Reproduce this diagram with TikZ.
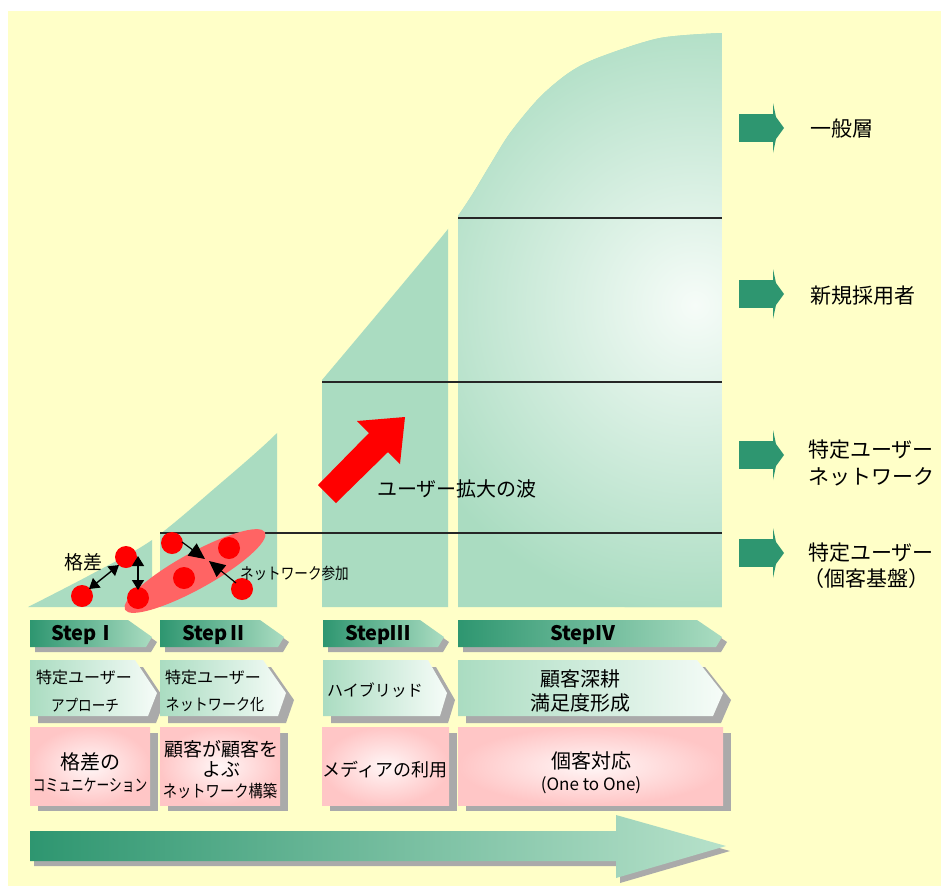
\documentclass[tikz,border=0pt]{standalone}
\usepackage{fontspec}
\usepackage{graphicx}
\setmainfont{Noto Sans CJK JP}
\usetikzlibrary{arrows.meta}
\definecolor{dkg}{RGB}{46,150,112}
\definecolor{mint}{RGB}{170,220,193}
\definecolor{bgy}{RGB}{255,255,200}
\definecolor{pnk}{RGB}{255,198,198}
\definecolor{shd}{RGB}{170,170,170}
\definecolor{paleg}{RGB}{246,252,248}
\definecolor{hatch}{RGB}{255,100,100}
\newcommand{\fs}[1]{\fontsize{#1}{#1}\selectfont}
\newcommand{\nx}[2]{\scalebox{#1}[1]{#2}}
\newcommand{\pentfill}[8]{\path[#1] (#2,#6) -- (#3,#6) -- (#4,#8) -- (#5,#7) -- (#2,#7) -- cycle;}
\newcommand{\garrow}[1]{%
  \fill[dkg] (739,#1-14) rectangle (774,#1+14);
  \fill[dkg] (773,#1-25) -- (776,#1-11) -- (784,#1) -- (776,#1+11) -- (773,#1+25) -- cycle;}
\tikzset{
  txt/.style={inner sep=0pt, outer sep=0pt, text=black},
  hline/.style={line width=2pt, black!85},
  dbl/.style={{Triangle[length=10pt,width=12pt]}-{Triangle[length=10pt,width=12pt]}, line width=1.4pt},
  sgl/.style={-{Triangle[length=16pt,width=15pt]}, line width=1.2pt},
  rdot/.style={fill=red},
}
\begin{document}
\begin{tikzpicture}[x=1pt,y=-1pt]
\useasboundingbox (0,0) rectangle (941,886);
\fill[white] (0,0) rectangle (941,886);
\fill[bgy] (8,11) rectangle (941,886);

% ---- growth curve columns
\begin{scope}
  \clip (28,0) rectangle (152,607) (160,0) rectangle (277,607) (322,0) rectangle (448,607) (458,0) rectangle (722,607);
  \fill[mint] plot[smooth] coordinates {(28,607) (90,575) (152,540) (215,488) (277,433) (322,380) (385,305) (448,229) (470,198) (490,165) (510,133) (540,97) (570,72) (600,57) (660,38) (722,33)} -- (722,607) -- (28,607) -- cycle;
\end{scope}
\begin{scope}
  \clip plot[smooth] coordinates {(28,607) (90,575) (152,540) (215,488) (277,433) (322,380) (385,305) (448,229) (470,198) (490,165) (510,133) (540,97) (570,72) (600,57) (660,38) (722,33)} -- (722,607) -- (28,607) -- cycle;
  \clip (458,0) rectangle (722,607);
  \shade[inner color=paleg, outer color=mint] (695,305) circle[radius=310pt];
\end{scope}

% ---- level lines
\draw[hline] (458,218) -- (722,218);
\draw[hline] (322,382) -- (722,382);
\draw[hline] (160,533) -- (722,533);

% ---- network ellipse and users
\fill[hatch, rotate around={29:(195,571)}] (195,571) ellipse [x radius=80pt, y radius=18pt];
\foreach \p in {(82,596),(126,557),(138,598),(172,543),(184,578),(229,548),(242,589)}
  \fill[rdot] \p circle[radius=11pt];

\coordinate (ka) at (89,589); \coordinate (kb) at (119,565);
\draw[dbl] (ka) -- (kb);
\coordinate (va) at (138,556); \coordinate (vb) at (138,590);
\draw[dbl] (va) -- (vb);
\coordinate (n1) at (182,542); \coordinate (n1t) at (205,559);
\coordinate (n2) at (236,583); \coordinate (n2t) at (209,561);
\draw[sgl] (n1) -- (n1t);
\draw[sgl] (n2) -- (n2t);

\node[txt, font=\fs{19}] (kakusa) at (83,562) {格差};
\node[txt, font=\fs{16}, anchor=west] (netjoin) at (240,573) {\nx{0.85}{ネットワーク参加}};

% ---- red wave arrow
\fill[red] (318,485) -- (369,433) -- (357,421) -- (405,417) -- (400,464) -- (388,452) -- (336,503) -- cycle;
\node[txt, font=\fs{20}, anchor=west] (wave) at (377,489) {ユーザー拡大の波};

% ---- right side labels
\garrow{128}
\garrow{294}
\garrow{455}
\garrow{553}
\node[txt, font=\fs{21}, anchor=west] (l1) at (810,129) {一般層};
\node[txt, font=\fs{21}, anchor=west] (l2) at (810,296) {新規採用者};
\node[txt, font=\fs{21}] (l3a) at (871,450) {特定ユーザー};
\node[txt, font=\fs{21}] (l3b) at (871,477) {ネットワーク};
\node[txt, font=\fs{21}] (l4a) at (871,553) {特定ユーザー};
\node[txt, font=\fs{21}] (l4b) at (866,579) {（個客基盤）};

% ---- row 1: step arrows
\pentfill{fill=shd, shift={(5,5)}}{30}{128}{152}{146}{620}{647}{637}
\pentfill{left color=dkg, right color=mint}{30}{128}{152}{146}{620}{647}{637}
\pentfill{fill=shd, shift={(5,5)}}{160}{260}{284}{278}{620}{647}{637}
\pentfill{left color=dkg, right color=mint}{160}{260}{284}{278}{620}{647}{637}
\pentfill{fill=shd, shift={(5,5)}}{323}{420}{444}{438}{620}{647}{637}
\pentfill{left color=dkg, right color=mint}{323}{420}{444}{438}{620}{647}{637}
\pentfill{fill=shd, shift={(5,5)}}{458}{697}{722}{716}{620}{647}{637}
\pentfill{left color=dkg, right color=mint}{458}{697}{722}{716}{620}{647}{637}
\node[txt, font=\bfseries\fs{20}] (s1) at (84,635) {StepⅠ};
\node[txt, font=\bfseries\fs{20}] (s2) at (215,635) {StepⅡ};
\node[txt, font=\bfseries\fs{20}] (s3) at (378,635) {StepⅢ};
\node[txt, font=\bfseries\fs{20}] (s4) at (583,635) {StepⅣ};

% ---- row 2: approach arrows
\pentfill{fill=shd, shift={(8,7)}}{30}{135}{157}{148}{660}{716}{693}
\pentfill{left color=mint, right color=paleg}{30}{135}{157}{148}{660}{716}{693}
\pentfill{fill=shd, shift={(8,7)}}{160}{263}{286}{278}{660}{716}{693}
\pentfill{left color=mint, right color=paleg}{160}{263}{286}{278}{660}{716}{693}
\pentfill{fill=shd, shift={(8,7)}}{323}{428}{447}{440}{660}{716}{693}
\pentfill{left color=mint, right color=paleg}{323}{428}{447}{440}{660}{716}{693}
\pentfill{fill=shd, shift={(8,7)}}{458}{697}{723}{713}{660}{716}{693}
\pentfill{left color=mint, right color=paleg}{458}{697}{723}{713}{660}{716}{693}
\node[txt, font=\fs{16}] (a1a) at (84,677) {特定ユーザー};
\node[txt, font=\fs{16}] (a1b) at (85,705) {\nx{0.85}{アプローチ}};
\node[txt, font=\fs{16}] (a2a) at (213,677) {特定ユーザー};
\node[txt, font=\fs{16}] (a2b) at (215,705) {\nx{0.88}{ネットワーク化}};
\node[txt, font=\fs{16}] (a3) at (375,690) {ハイブリッド};
\node[txt, font=\fs{20}] (a4a) at (580,679) {顧客深耕};
\node[txt, font=\fs{20}] (a4b) at (580,703) {満足度形成};

% ---- row 3: communication boxes
\foreach \xa/\xb in {30/150,160/280,322/449,458/723}{
  \fill[shd] (\xa+8,733) rectangle (\xb+8,811);
  \shade[inner color=white!85!pnk, outer color=pnk] (\xa,727) rectangle (\xb,805);
}
\node[txt, font=\fs{20}] (c1a) at (90,762) {格差の};
\node[txt, font=\fs{17}] (c1b) at (90,785) {\nx{0.75}{コミュニケーション}};
\node[txt, font=\fs{19}] (c2a) at (221,749) {顧客が顧客を};
\node[txt, font=\fs{19}] (c2b) at (221,769) {よぶ};
\node[txt, font=\fs{17}] (c2c) at (220,791) {\nx{0.84}{ネットワーク構築}};
\node[txt, font=\fs{18}] (c3) at (385,770) {メディアの利用};
\node[txt, font=\fs{20}] (c4a) at (591,761) {個客対応};
\node[txt, font=\fs{17}] (c4b) at (591,785) {(One to One)};

% ---- bottom time arrow
\path[fill=shd, shift={(4,5)}] (30,831) -- (616,831) -- (616,815) -- (726,846) -- (616,878) -- (616,861) -- (30,861) -- cycle;
\path[left color=dkg, right color=mint!85!white] (30,831) -- (616,831) -- (616,815) -- (726,846) -- (616,878) -- (616,861) -- (30,861) -- cycle;
\end{tikzpicture}
\end{document}
